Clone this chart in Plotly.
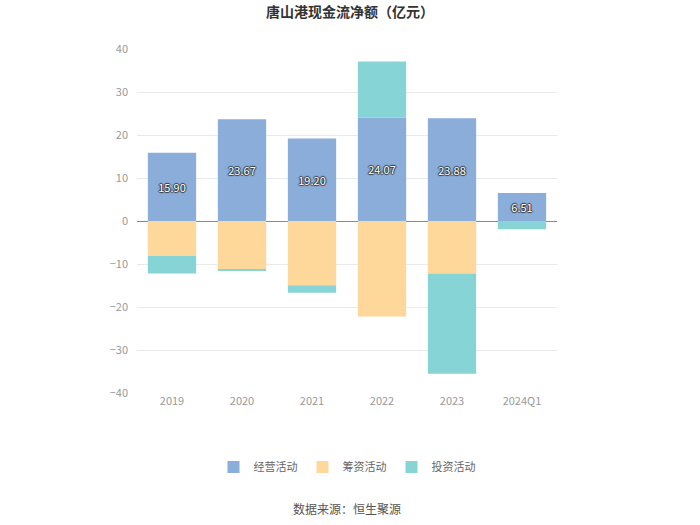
import plotly.graph_objects as go

categories = ["2019", "2020", "2021", "2022", "2023", "2024Q1"]
operating = [15.90, 23.67, 19.20, 24.07, 23.88, 6.51]
financing = [-8.1, -11.2, -14.95, -22.2, -12.2, 0.0]
investing = [-4.1, -0.4, -1.75, 13.0, -23.3, -1.9]
tick_vals = [-40, -30, -20, -10, 0, 10, 20, 30, 40]

W, H = 700, 525
L, R, T, B = 137, 143, 49, 132

fig = go.Figure()
fig.add_trace(go.Bar(
    x=categories, y=operating, name="经营活动",
    marker=dict(color="#8badd9", line=dict(width=0)),
    text=[f"{v:.2f}" for v in operating], textposition="inside",
    insidetextanchor="middle",
    textfont=dict(color="white", size=11,
                  shadow="1px 0 1px #333, -1px 0 1px #333, 0 1px 1px #333, 0 -1px 1px #333"),
    hoverinfo="x+y",
))
fig.add_trace(go.Bar(
    x=categories, y=financing, name="筹资活动",
    marker=dict(color="#fed89b", line=dict(width=0)),
))
fig.add_trace(go.Bar(
    x=categories, y=investing, name="投资活动",
    marker=dict(color="#87d4d7", line=dict(width=0)),
))

fig.update_layout(
    width=W, height=H,
    barmode="relative",
    bargap=0.31,
    plot_bgcolor="white", paper_bgcolor="white",
    margin=dict(l=L, r=R, t=T, b=B, pad=0),
    font=dict(family="Noto Sans CJK SC, sans-serif", color="#999999", size=11),
    title=dict(text="<b>唐山港现金流净额（亿元）</b>", x=0.5, xanchor="center",
               y=1 - 12 / H, yanchor="middle",
               font=dict(size=14, color="#333333")),
    showlegend=True,
    legend=dict(orientation="h", x=0.5, xanchor="center",
                y=-(467 - (H - B)) / (H - T - B), yanchor="middle",
                font=dict(size=11, color="#666666"),
                itemwidth=30, traceorder="normal"),
)
fig.update_xaxes(showgrid=False, showline=False, ticks="", tickfont=dict(color="#999999", size=11))
fig.update_yaxes(range=[-40, 40], tickvals=tick_vals, showgrid=True, gridcolor="#e9e9e9",
                 zeroline=True, zerolinecolor="#888888", zerolinewidth=1,
                 ticks="", ticklabelstandoff=8, tickfont=dict(color="#999999", size=11))

fig.add_annotation(text="数据来源：恒生聚源", xref="paper", yref="paper",
                   x=0.5, y=-(508 - (H - B)) / (H - T - B), yanchor="middle",
                   showarrow=False, font=dict(size=12, color="#555555"))

fig.write_html("out.html", config={"displayModeBar": False},
               post_script="document.body.style.margin='0';")
